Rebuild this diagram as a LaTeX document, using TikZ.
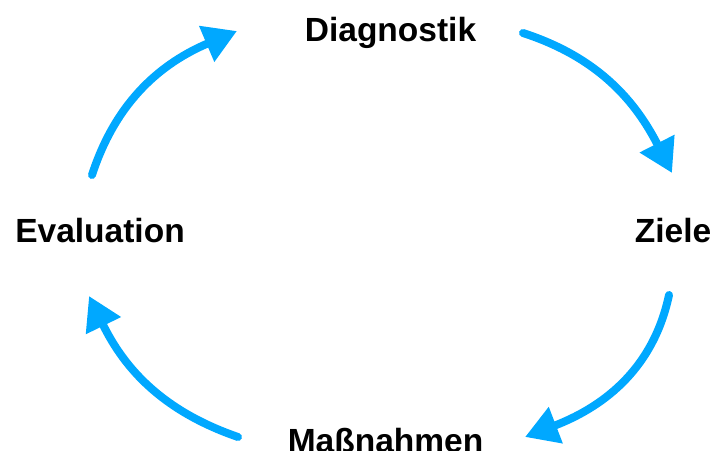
\documentclass[tikz,border=0pt]{standalone}
\usepackage{fontspec}
\setmainfont{Liberation Sans}
\usepackage{tikz}
\usetikzlibrary{calc,arrows.meta,positioning}
\definecolor{cycleblue}{RGB}{0,168,255}
\tikzstyle{stage}=[inner sep=0pt,anchor=base,font=\fontsize{28.6}{34}\selectfont\bfseries]
\tikzstyle{cyclearrow}=[draw=cycleblue,line width=6.8pt,line cap=round,
  -{Triangle[length=0.99cm,width=1.11cm,fill=cycleblue]}]

\begin{document}
\begin{tikzpicture}[x=0.03cm,y=0.03cm]
\useasboundingbox (0,0) rectangle (713,450);
% the four stages
\node [stage] (diag) at (390.5,408) {Diagnostik};
\node [stage] (ziele) at (673,207) {Ziele};
\node [stage] (mass) at (385.5,-2) {Maßnahmen};
\node [stage] (eval) at (100,207) {Evaluation};
% ends of the arcs
\coordinate (diagout) at (523,417);
\coordinate (zielein) at (672,277);
\coordinate (zieleout) at (669,155);
\coordinate (massin) at (525,13);
\coordinate (massout) at (238,13);
\coordinate (evalin) at (89,154);
\coordinate (evalout) at (92,275);
\coordinate (diagin) at (237,419);
% arcs
\draw [cyclearrow] (diagout) to[out=-18,in=117] (zielein);
\draw [cyclearrow] (zieleout) to[out=-102,in=21] (massin);
\draw [cyclearrow] (massout) to[out=161,in=-64] (evalin);
\draw [cyclearrow] (evalout) to[out=72,in=203] (diagin);
\end{tikzpicture}
\end{document}
